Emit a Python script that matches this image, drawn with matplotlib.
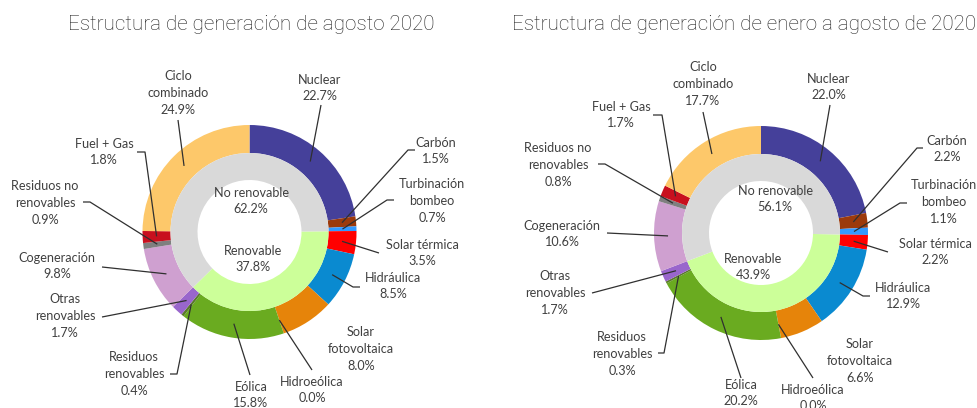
import numpy as np
import matplotlib
matplotlib.use('Agg')
import matplotlib.pyplot as plt

# data
categorias = ['Nuclear', 'Carbón', 'Turbinación\nbombeo', 'Solar térmica', 'Hidráulica',
              'Solar\nfotovoltaica', 'Hidroeólica', 'Eólica', 'Residuos\nrenovables',
              'Otras\nrenovables', 'Cogeneración', 'Residuos no\nrenovables', 'Fuel + Gas',
              'Ciclo\ncombinado']
renovable = [0, 0, 0, 1, 1, 1, 1, 1, 1, 1, 0, 0, 0, 0]
agosto = [22.7, 1.5, 0.7, 3.5, 8.5, 8.0, 0.0, 15.8, 0.4, 1.7, 9.8, 0.9, 1.8, 24.9]
enero_agosto = [22.0, 2.2, 1.1, 2.2, 12.9, 6.6, 0.0, 20.2, 0.3, 1.7, 10.6, 0.8, 1.7, 17.7]
grupos = ['Renovable', 'No renovable']
grupos_agosto = [37.8, 62.2]
grupos_enero_agosto = [43.9, 56.1]
titulos = ['Estructura de generación de agosto 2020',
           'Estructura de generación de enero a agosto de 2020']

colores = ['#45409a', '#9c3a0c', '#3399ff', '#ff0000', '#0a8ad0', '#e6840a', '#66ccff',
           '#6aab20', '#5a7a2a', '#9966cc', '#cfa0d0', '#7f7f7f', '#c8101e', '#fdc86a']
colores_grupo = ['#ccff99', '#d9d9d9']

W, H = 978, 408
R, RING = 107, 28

# layout in pixels from top-left: centre, label centre, leader end, stub
layouts = [
    dict(centre=(249.5, 232), title=(68, 25, 'left'),
         inner={'No renovable': (251, 201), 'Renovable': (253, 259)},
         labels=[((320, 88), (321, 105), 0), ((436, 151), (408, 150), 7),
                 ((432, 201), (387, 200), 7), ((422, 253), (379, 253), 0),
                 ((393, 286), (353, 287), 7), ((361, 349), None, 0),
                 ((312, 390), (312, 370), 0), ((251, 395), (250, 375), 0),
                 ((134, 374), (177, 374), -7), ((65, 316), (102, 317), 0),
                 ((57, 266), (102, 267), 0), ((45, 203), (90, 202), -7),
                 ((104, 152), (145, 152), -8), ((178, 93), (178, 120), 0)]),
    dict(centre=(761, 233), title=(512, 25, 'left'),
         inner={'No renovable': (775, 199), 'Renovable': (753, 267)},
         labels=[((829, 87), (830, 105), 0), ((947, 149), (917, 148), 6),
                 ((944, 202), (900, 203), 7), ((935, 252), (888, 252), 0),
                 ((903, 296), (863, 296), 7), ((860, 361), None, 0),
                 ((813, 398), (813, 378), 0), ((741, 393), (741, 378), 0),
                 ((622, 354), (664, 353), -6), ((555, 293), (592, 293), 0),
                 ((562, 234), (607, 233), 0), ((558, 165), (605, 164), -7),
                 ((621, 115), (662, 115), -9), ((703, 84), (703, 112), 0)]),
]

fig = plt.figure(figsize=(W / 100, H / 100), dpi=100)
ax = fig.add_axes([0, 0, 1, 1])

lab_font = dict(family=['Lato', 'DejaVu Sans'], fontsize=9.1, color='#404040',
                linespacing=1.47, ha='center', va='center')


def fy(y):
    return H - y


for valores, grupo_vals, lay, titulo in zip([agosto, enero_agosto],
                                            [grupos_agosto, grupos_enero_agosto],
                                            layouts, titulos):
    cx, cy = lay['centre'][0], fy(lay['centre'][1])
    total = float(sum(valores))
    ax.pie(valores, colors=colores, startangle=90, counterclock=False, radius=R,
           center=(cx, cy), wedgeprops=dict(width=RING, linewidth=0))
    # inner ring starts where the first renewable wedge starts
    first = renovable.index(1)
    ang0 = 90 - 360 * sum(valores[:first]) / total
    ax.pie(grupo_vals, colors=colores_grupo, startangle=ang0, counterclock=False,
           radius=R - RING, center=(cx, cy), wedgeprops=dict(width=27, linewidth=0))
    for g, v in zip(grupos, grupo_vals):
        gx, gy = lay['inner'][g]
        ax.text(gx, fy(gy), '%s\n%.1f%%' % (g, v), **lab_font)

    cum = np.cumsum([0] + valores[:-1])
    for name, v, c0, (tpos, lend, stub) in zip(categorias, valores, cum, lay['labels']):
        ax.text(tpos[0], fy(tpos[1]), '%s\n%.1f%%' % (name, v), **lab_font)
        if lend is None:
            continue
        th = np.deg2rad(90 - 360 * (c0 + v / 2) / total)
        px, py = cx + (R - RING / 2) * np.cos(th), cy + (R - RING / 2) * np.sin(th)
        xs = [px, lend[0]]
        ys = [py, fy(lend[1])]
        if stub:
            xs.append(lend[0] + stub)
            ys.append(fy(lend[1]))
        ax.plot(xs, ys, color='#303030', lw=0.9, solid_capstyle='butt')

    tx, ty, ha = lay['title']
    ax.text(tx, fy(ty), titulo, family=['Roboto', 'DejaVu Sans'], fontsize=14.9,
            fontweight='light', color='#222222', ha=ha, va='center')

ax.set_xlim(0, W)
ax.set_ylim(0, H)
ax.set_aspect('auto')
ax.axis('off')

fig.savefig('out.png', dpi=100, facecolor='white')
